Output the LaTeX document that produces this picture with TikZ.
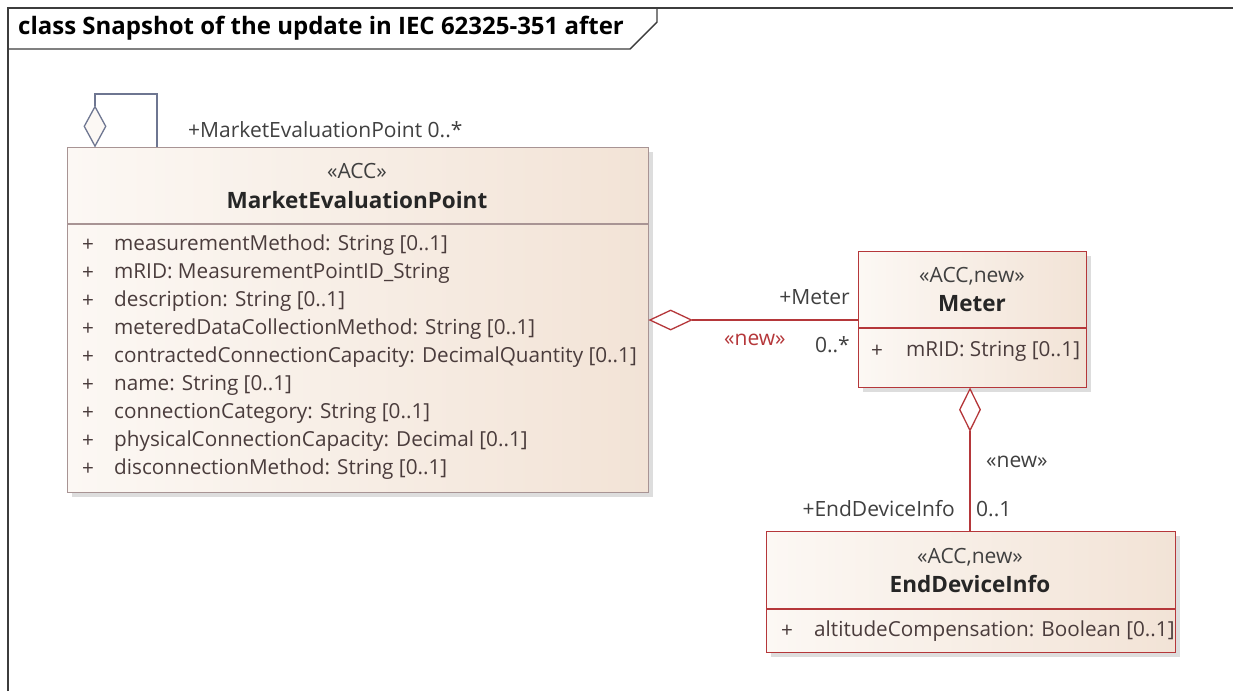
\documentclass[tikz,border=0pt]{standalone}
\usepackage{fontspec}
\setmainfont{Open Sans}
\usetikzlibrary{shapes.geometric,shadows}

\definecolor{framegray}{HTML}{3C3C3C}
\definecolor{textgray}{HTML}{404040}
\definecolor{attrbrown}{HTML}{4A3C3C}
\definecolor{boxlight}{HTML}{FCF8F4}
\definecolor{boxdark}{HTML}{F2E3D6}
\definecolor{mepline}{HTML}{A89494}
\definecolor{newred}{HTML}{B5373A}
\definecolor{selfline}{HTML}{6E7691}

\tikzset{
  classbox/.style={draw=#1, line width=1.3pt, left color=boxlight, right color=boxdark,
    anchor=north west, inner sep=0pt,
    drop shadow={shadow xshift=4pt, shadow yshift=-4pt, fill=black!22, opacity=0.6}},
  agg/.style={shape=diamond, draw=#1, line width=1.3pt, fill=white, inner sep=0pt},
  stereo/.style={font=\fontsize{21}{24}\selectfont, text=textgray},
  clsname/.style={font=\fontsize{22.5}{26}\selectfont\bfseries, text=black!85},
  attr/.style={font=\fontsize{20.7}{24}\selectfont, text=attrbrown, anchor=west, inner sep=0pt},
  role/.style={font=\fontsize{21}{24}\selectfont, text=textgray, inner sep=0pt}
}

\begin{document}
\begin{tikzpicture}[x=1pt,y=-1pt]
  \useasboundingbox[fill=white] (0,0) rectangle (1233,691);

  % frame and its tab
  \draw[framegray, line width=1.6pt] (8,691) -- (8,8) -- (1233,8);
  \node[anchor=west, inner sep=0pt, font=\fontsize{24}{26}\selectfont\bfseries] (diagtitle)
    at (18,28) {class Snapshot of the update in IEC 62325-351 after};
  \draw[framegray, line width=1.4pt] (8,49) -- (630,49) -- (657,22) -- (657,8);

  % classes
  \node[classbox=mepline, minimum width=581, minimum height=345] (MEP) at (67,147) {};
  \node[classbox=newred, minimum width=228, minimum height=136] (Meter) at (858,251) {};
  \node[classbox=newred, minimum width=409, minimum height=121] (EDI) at (766,531) {};

  \draw[mepline, line width=1.3pt] (67,224) -- (648,224);
  \draw[newred, line width=1.3pt] (858,328) -- (1086,328);
  \draw[newred, line width=1.3pt] (766,609) -- (1175,609);

  \node[stereo] (mepster) at (357,171) {«ACC»};
  \node[clsname] (mepname) at (357,200) {MarketEvaluationPoint};
  \path
    (82,245) node[attr] (a1) {+} (114,245) node[attr] {measurementMethod: String [0..1]}
    (82,273) node[attr] (a2) {+} (114,273) node[attr] {mRID: MeasurementPointID\_String}
    (82,301) node[attr] (a3) {+} (114,301) node[attr] {description: String [0..1]}
    (82,329) node[attr] (a4) {+} (114,329) node[attr] {meteredDataCollectionMethod: String [0..1]}
    (82,357) node[attr] (a5) {+} (114,357) node[attr] {contractedConnectionCapacity: DecimalQuantity [0..1]}
    (82,385) node[attr] (a6) {+} (114,385) node[attr] {name: String [0..1]}
    (82,413) node[attr] (a7) {+} (114,413) node[attr] {connectionCategory: String [0..1]}
    (82,441) node[attr] (a8) {+} (114,441) node[attr] {physicalConnectionCapacity: Decimal [0..1]}
    (82,469) node[attr] (a9) {+} (114,469) node[attr] {disconnectionMethod: String [0..1]};

  \node[stereo] (meterster) at (972,276) {«ACC,new»};
  \node[clsname] (metername) at (972,304) {Meter};
  \path (871,351) node[attr] (m1) {+} (906,351) node[attr] {mRID: String [0..1]};

  \node[stereo] (edister) at (970,557) {«ACC,new»};
  \node[clsname] (ediname) at (970,584) {EndDeviceInfo};
  \path (781,631) node[attr] (e1) {+} (814,631) node[attr] {altitudeCompensation: Boolean [0..1]};

  % self aggregation
  \node[agg=selfline, fill=boxlight, minimum width=22, minimum height=40, anchor=south] (selfagg) at (95,147) {};
  \draw[selfline, line width=1.3pt] (selfagg.north) |- (157,94) coordinate (selfturn) -- (selfturn |- MEP.north);
  \node[role, anchor=west] (selfrole) at (188,130) {+MarketEvaluationPoint 0..*};

  % MEP -- Meter
  \node[agg=newred, minimum width=42, minimum height=20, anchor=west] (meteragg) at (649,320) {};
  \draw[newred, line width=1.3pt] (meteragg.east) -- (meteragg.east -| Meter.west);
  \node[role, anchor=east] (meterrole) at (850,297) {+Meter};
  \node[role, anchor=east] (metermult) at (850,345) {0..*};
  \node[role, anchor=west, text=newred] (meternew) at (724,340) {«new»};

  % Meter -- EndDeviceInfo
  \node[agg=newred, minimum width=21, minimum height=42, anchor=north] (ediagg) at (970,388) {};
  \draw[newred, line width=1.3pt] (ediagg.south) -- (ediagg.south |- EDI.north);
  \node[role, anchor=west] (edinew) at (986,462) {«new»};
  \node[role, anchor=east] (edirole) at (955,509) {+EndDeviceInfo};
  \node[role, anchor=west] (edimult) at (976,509) {0..1};
\end{tikzpicture}
\end{document}
